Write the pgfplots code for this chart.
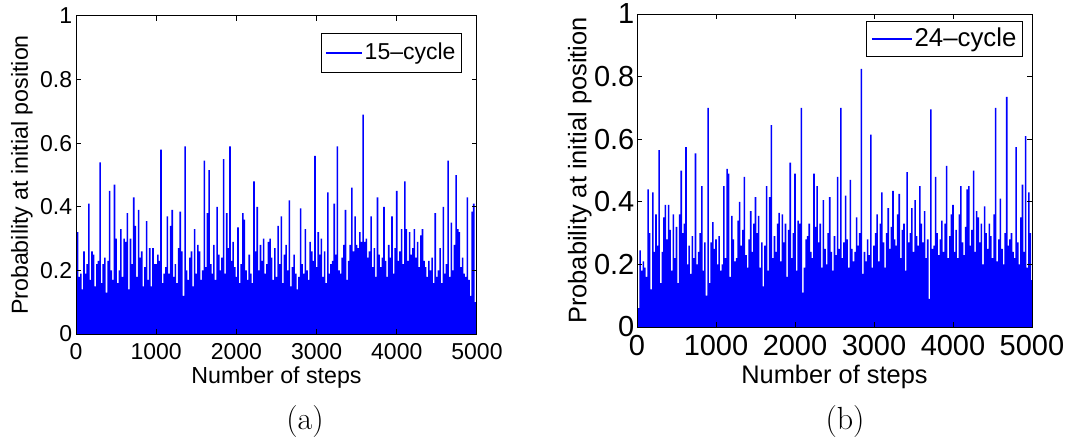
\documentclass[border=0pt]{standalone}
\usepackage{fontspec}
\newfontfamily\arial{Liberation Sans}[Ligatures=TeX]
\usepackage{pgfplots}
\usepackage{pgfplotstable}
\pgfplotsset{compat=1.18}
\definecolor{mblue}{RGB}{0,0,255}

\pgfplotstableread[row sep=\\]{
x y\\
0 0.50\\ 20 0.32\\ 40 0.18\\ 60 0.19\\ 80 0.14\\ 100 0.26\\ 120 0.19\\ 140 0.22\\ 160 0.41\\ 180 0.17\\
200 0.26\\ 220 0.25\\ 240 0.15\\ 260 0.22\\ 280 0.23\\ 300 0.54\\ 320 0.16\\ 340 0.22\\ 360 0.24\\ 380 0.13\\
400 0.23\\ 420 0.45\\ 440 0.20\\ 460 0.17\\ 480 0.47\\ 500 0.30\\ 520 0.16\\ 540 0.20\\ 560 0.33\\ 580 0.18\\
600 0.30\\ 620 0.29\\ 640 0.38\\ 660 0.14\\ 680 0.30\\ 700 0.22\\ 720 0.43\\ 740 0.34\\ 760 0.18\\ 780 0.39\\
800 0.24\\ 820 0.26\\ 840 0.15\\ 860 0.21\\ 880 0.355\\ 900 0.17\\ 920 0.27\\ 940 0.15\\ 960 0.27\\ 980 0.22\\
1000 0.22\\ 1020 0.25\\ 1040 0.23\\ 1060 0.58\\ 1080 0.16\\ 1100 0.19\\ 1120 0.21\\ 1140 0.37\\ 1160 0.19\\ 1180 0.34\\
1200 0.39\\ 1220 0.18\\ 1240 0.22\\ 1260 0.16\\ 1280 0.27\\ 1300 0.385\\ 1320 0.26\\ 1340 0.12\\ 1360 0.59\\ 1380 0.20\\
1400 0.17\\ 1420 0.24\\ 1440 0.26\\ 1460 0.15\\ 1480 0.33\\ 1500 0.19\\ 1520 0.28\\ 1540 0.26\\ 1560 0.17\\ 1580 0.20\\
1600 0.545\\ 1620 0.21\\ 1640 0.38\\ 1660 0.515\\ 1680 0.22\\ 1700 0.19\\ 1720 0.28\\ 1740 0.17\\ 1760 0.40\\ 1780 0.25\\
1800 0.20\\ 1820 0.24\\ 1840 0.55\\ 1860 0.19\\ 1880 0.38\\ 1900 0.27\\ 1920 0.59\\ 1940 0.23\\ 1960 0.29\\ 1980 0.21\\
2000 0.18\\ 2020 0.335\\ 2040 0.16\\ 2060 0.22\\ 2080 0.38\\ 2100 0.36\\ 2120 0.20\\ 2140 0.17\\ 2160 0.25\\ 2180 0.19\\
2200 0.16\\ 2220 0.48\\ 2240 0.26\\ 2260 0.40\\ 2280 0.20\\ 2300 0.28\\ 2320 0.23\\ 2340 0.30\\ 2360 0.19\\ 2380 0.22\\
2400 0.29\\ 2420 0.30\\ 2440 0.24\\ 2460 0.17\\ 2480 0.27\\ 2500 0.18\\ 2520 0.34\\ 2540 0.22\\ 2560 0.37\\ 2580 0.16\\
2600 0.25\\ 2620 0.28\\ 2640 0.20\\ 2660 0.42\\ 2680 0.15\\ 2700 0.21\\ 2720 0.25\\ 2740 0.19\\ 2760 0.14\\ 2780 0.18\\
2800 0.395\\ 2820 0.22\\ 2840 0.19\\ 2860 0.33\\ 2880 0.20\\ 2900 0.17\\ 2920 0.29\\ 2940 0.26\\ 2960 0.23\\ 2980 0.56\\
3000 0.21\\ 3020 0.32\\ 3040 0.25\\ 3060 0.30\\ 3080 0.18\\ 3100 0.26\\ 3120 0.16\\ 3140 0.445\\ 3160 0.19\\ 3180 0.22\\
3200 0.23\\ 3220 0.41\\ 3240 0.25\\ 3260 0.59\\ 3280 0.20\\ 3300 0.19\\ 3320 0.24\\ 3340 0.28\\ 3360 0.39\\ 3380 0.17\\
3400 0.23\\ 3420 0.28\\ 3440 0.46\\ 3460 0.26\\ 3480 0.37\\ 3500 0.28\\ 3520 0.27\\ 3540 0.32\\ 3560 0.29\\ 3580 0.69\\
3600 0.29\\ 3620 0.30\\ 3640 0.24\\ 3660 0.26\\ 3680 0.37\\ 3700 0.21\\ 3720 0.27\\ 3740 0.18\\ 3760 0.43\\ 3780 0.25\\
3800 0.21\\ 3820 0.24\\ 3840 0.40\\ 3860 0.23\\ 3880 0.18\\ 3900 0.28\\ 3920 0.24\\ 3940 0.37\\ 3960 0.19\\ 3980 0.27\\
4000 0.45\\ 4020 0.23\\ 4040 0.26\\ 4060 0.33\\ 4080 0.22\\ 4100 0.48\\ 4120 0.33\\ 4140 0.23\\ 4160 0.32\\ 4180 0.25\\
4200 0.27\\ 4220 0.33\\ 4240 0.24\\ 4260 0.29\\ 4280 0.21\\ 4300 0.31\\ 4320 0.33\\ 4340 0.23\\ 4360 0.21\\ 4380 0.18\\
4400 0.23\\ 4420 0.20\\ 4440 0.24\\ 4460 0.16\\ 4480 0.38\\ 4500 0.18\\ 4520 0.20\\ 4540 0.27\\ 4560 0.16\\ 4580 0.40\\
4600 0.19\\ 4620 0.22\\ 4640 0.545\\ 4660 0.18\\ 4680 0.35\\ 4700 0.20\\ 4720 0.28\\ 4740 0.50\\ 4760 0.33\\ 4780 0.32\\
4800 0.21\\ 4820 0.24\\ 4840 0.19\\ 4860 0.18\\ 4880 0.43\\ 4900 0.17\\ 4920 0.12\\ 4940 0.385\\ 4960 0.41\\ 4980 0.10\\
5000 0.23\\
}\dataA

\pgfplotstableread[row sep=\\]{
x y\\
0 0.50\\ 20 0.06\\ 40 0.245\\ 60 0.18\\ 80 0.21\\ 100 0.19\\ 120 0.16\\ 140 0.44\\ 160 0.30\\ 180 0.12\\
200 0.43\\ 220 0.24\\ 240 0.36\\ 260 0.26\\ 280 0.565\\ 300 0.14\\ 320 0.24\\ 340 0.35\\ 360 0.39\\ 380 0.28\\
400 0.39\\ 420 0.31\\ 440 0.18\\ 460 0.36\\ 480 0.22\\ 500 0.32\\ 520 0.14\\ 540 0.36\\ 560 0.50\\ 580 0.30\\
600 0.33\\ 620 0.575\\ 640 0.20\\ 660 0.26\\ 680 0.17\\ 700 0.29\\ 720 0.22\\ 740 0.555\\ 760 0.20\\ 780 0.24\\
800 0.30\\ 820 0.45\\ 840 0.18\\ 860 0.27\\ 880 0.10\\ 900 0.70\\ 920 0.14\\ 940 0.27\\ 960 0.335\\ 980 0.25\\
1000 0.28\\ 1020 0.20\\ 1040 0.29\\ 1060 0.18\\ 1080 0.20\\ 1100 0.45\\ 1120 0.22\\ 1140 0.505\\ 1160 0.49\\ 1180 0.16\\
1200 0.355\\ 1220 0.28\\ 1240 0.21\\ 1260 0.22\\ 1280 0.34\\ 1300 0.40\\ 1320 0.26\\ 1340 0.31\\ 1360 0.48\\ 1380 0.23\\
1400 0.19\\ 1420 0.28\\ 1440 0.37\\ 1460 0.24\\ 1480 0.33\\ 1500 0.415\\ 1520 0.30\\ 1540 0.355\\ 1560 0.19\\ 1580 0.27\\
1600 0.13\\ 1620 0.26\\ 1640 0.45\\ 1660 0.18\\ 1680 0.415\\ 1700 0.645\\ 1720 0.22\\ 1740 0.29\\ 1760 0.24\\ 1780 0.33\\
1800 0.365\\ 1820 0.21\\ 1840 0.36\\ 1860 0.27\\ 1880 0.33\\ 1900 0.16\\ 1920 0.31\\ 1940 0.525\\ 1960 0.22\\ 1980 0.30\\
2000 0.49\\ 2020 0.18\\ 2040 0.34\\ 2060 0.33\\ 2080 0.70\\ 2100 0.11\\ 2120 0.19\\ 2140 0.28\\ 2160 0.29\\ 2180 0.33\\
2200 0.24\\ 2220 0.22\\ 2240 0.49\\ 2260 0.32\\ 2280 0.45\\ 2300 0.27\\ 2320 0.33\\ 2340 0.19\\ 2360 0.405\\ 2380 0.25\\
2400 0.20\\ 2420 0.30\\ 2440 0.415\\ 2460 0.24\\ 2480 0.18\\ 2500 0.29\\ 2520 0.23\\ 2540 0.48\\ 2560 0.25\\ 2580 0.70\\
2600 0.22\\ 2620 0.27\\ 2640 0.42\\ 2660 0.28\\ 2680 0.19\\ 2700 0.47\\ 2720 0.25\\ 2740 0.21\\ 2760 0.24\\ 2780 0.35\\
2800 0.26\\ 2820 0.30\\ 2840 0.825\\ 2860 0.17\\ 2880 0.24\\ 2900 0.21\\ 2920 0.28\\ 2940 0.23\\ 2960 0.615\\ 2980 0.19\\
3000 0.26\\ 3020 0.30\\ 3040 0.36\\ 3060 0.21\\ 3080 0.33\\ 3100 0.43\\ 3120 0.27\\ 3140 0.19\\ 3160 0.30\\ 3180 0.38\\
3200 0.25\\ 3220 0.32\\ 3240 0.435\\ 3260 0.28\\ 3280 0.26\\ 3300 0.36\\ 3320 0.425\\ 3340 0.22\\ 3360 0.31\\ 3380 0.33\\
3400 0.18\\ 3420 0.495\\ 3440 0.27\\ 3460 0.30\\ 3480 0.38\\ 3500 0.24\\ 3520 0.405\\ 3540 0.29\\ 3560 0.26\\ 3580 0.45\\
3600 0.33\\ 3620 0.27\\ 3640 0.37\\ 3660 0.22\\ 3680 0.28\\ 3700 0.09\\ 3720 0.695\\ 3740 0.25\\ 3760 0.26\\ 3780 0.48\\
3800 0.30\\ 3820 0.23\\ 3840 0.28\\ 3860 0.34\\ 3880 0.24\\ 3900 0.33\\ 3920 0.515\\ 3940 0.22\\ 3960 0.29\\ 3980 0.36\\
4000 0.39\\ 4020 0.24\\ 4040 0.31\\ 4060 0.22\\ 4080 0.36\\ 4100 0.45\\ 4120 0.27\\ 4140 0.23\\ 4160 0.32\\ 4180 0.44\\
4200 0.45\\ 4220 0.26\\ 4240 0.31\\ 4260 0.50\\ 4280 0.24\\ 4300 0.37\\ 4320 0.35\\ 4340 0.27\\ 4360 0.33\\ 4380 0.20\\
4400 0.385\\ 4420 0.30\\ 4440 0.25\\ 4460 0.33\\ 4480 0.29\\ 4500 0.22\\ 4520 0.36\\ 4540 0.70\\ 4560 0.21\\ 4580 0.28\\
4600 0.41\\ 4620 0.25\\ 4640 0.20\\ 4660 0.30\\ 4680 0.735\\ 4700 0.26\\ 4720 0.28\\ 4740 0.30\\ 4760 0.24\\ 4780 0.22\\
4800 0.575\\ 4820 0.27\\ 4840 0.20\\ 4860 0.35\\ 4880 0.455\\ 4900 0.24\\ 4920 0.61\\ 4940 0.19\\ 4960 0.43\\ 4980 0.30\\
5000 0.15\\
}\dataB

\pgfplotsset{
  mlab/.style={
    scale only axis,
    anchor=south west,
    xmin=0, xmax=5000, ymin=0, ymax=1,
    xtick={0,1000,2000,3000,4000,5000},
    ytick={0,0.2,0.4,0.6,0.8,1},
    tick align=inside,
    major tick length=2.5pt,
    axis line style={line width=0.5pt},
    every tick/.style={black, line width=0.5pt},
    scaled ticks=false,
    /pgf/number format/1000 sep={},
    /pgf/number format/assume math mode=true,
    xlabel={Number of steps},
    ylabel={Probability at initial position},
    legend cell align=left,
    axis on top,
  }
}

\begin{document}
\begin{tikzpicture}
\path[use as bounding box] (0,0) rectangle (540pt,220pt);

\begin{axis}[mlab,
  at={(38pt,53pt)}, width=200.5pt, height=159pt,
  ticklabel style={font=\fontsize{11.5}{13}\selectfont\arial},
  xticklabel style={yshift=-1.2pt},
  yticklabel style={xshift=1.6pt},
  label style={font=\fontsize{11.6}{13}\selectfont\arial},
  xlabel style={at={(axis description cs:0.5,0)}, anchor=north, inner sep=0pt, yshift=-16.3pt},
  ylabel style={at={(axis description cs:-0.107,0.5)}, anchor=south, inner sep=0pt},
  legend style={at={(axis description cs:0.9626,0.9465)}, anchor=north east,
    draw=black, line width=0.5pt, inner xsep=2pt, inner ysep=3.6pt,
    nodes={inner sep=1pt, text depth=0.21em},
    font=\fontsize{11.5}{13}\selectfont\arial},
]
\addplot[ybar, bar width=20, bar shift=0pt, fill=mblue, draw=none, forget plot] table[x=x, y=y] {\dataA};
\addlegendimage{legend image code/.code={\draw[draw=mblue, line width=0.8pt] (0pt,0pt) -- (18pt,0pt);}}
\addlegendentry{15–cycle}
\end{axis}

\begin{axis}[mlab,
  at={(318.5pt,56.5pt)}, width=197.5pt, height=156.5pt,
  ticklabel style={font=\fontsize{14.5}{16}\selectfont\arial},
  xticklabel style={yshift=-0.7pt},
  yticklabel style={xshift=2.2pt},
  label style={font=\fontsize{12.7}{14}\selectfont\arial},
  xlabel style={at={(axis description cs:0.5,0)}, anchor=north, inner sep=0pt, yshift=-19pt},
  ylabel style={at={(axis description cs:-0.114,0.5)}, anchor=south, inner sep=0pt},
  legend style={at={(axis description cs:0.977,0.9776)}, anchor=north east,
    draw=black, line width=0.5pt, inner xsep=2pt, inner ysep=1.95pt,
    nodes={inner sep=1pt, text depth=0.21em},
    font=\fontsize{12.9}{14}\selectfont\arial},
]
\addplot[ybar, bar width=20, bar shift=0pt, fill=mblue, draw=none, forget plot] table[x=x, y=y] {\dataB};
\addlegendimage{legend image code/.code={\draw[draw=mblue, line width=0.8pt] (0pt,0pt) -- (20pt,0pt);}}
\addlegendentry{24–cycle}
\end{axis}

\node at (152.5pt,9pt) {\fontsize{16}{19}\selectfont (a)};
\node at (422.5pt,9pt) {\fontsize{16}{19}\selectfont (b)};
\end{tikzpicture}
\end{document}
